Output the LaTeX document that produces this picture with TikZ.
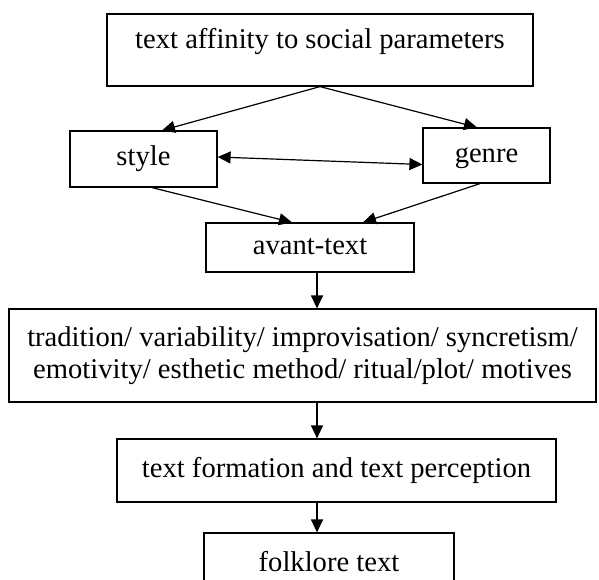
\documentclass[tikz,border=0pt]{standalone}
\usepackage{fontspec}
\setmainfont{Liberation Serif}
\usetikzlibrary{arrows.meta,positioning}
\tikzset{
  fbase/.style={draw, line width=0.6pt, inner sep=0pt, font=\fontsize{14.3pt}{16pt}\selectfont},
  fbox/.style={fbase, text height=10pt, text depth=3.5pt},
  farr/.style={-{Triangle[length=6.5pt,width=6pt]}, line width=0.6pt},
  darr/.style={{Triangle[length=6.5pt,width=6pt]}-{Triangle[length=6.5pt,width=6pt]}, line width=0.6pt},
}

\begin{document}
\begin{tikzpicture}[x=0.5pt,y=-0.5pt]
\useasboundingbox (0,0) rectangle (599,579);
%---- upper part
\node[fbox, minimum width=213pt, minimum height=36pt, text depth=11.5pt] (affin) at (320,50) {text affinity to social parameters};
\node[fbox, minimum width=73.5pt, minimum height=28pt] (style) at (143.5,159) {style};
\node[fbox, minimum width=63.5pt, minimum height=27.5pt] (genre) at (486.5,155.5) {genre};
\node[fbox, minimum width=104pt, minimum height=24.5pt] (avant) at (310,247.5) {avant-text};
%---- lower chain
\node[fbase, align=center, minimum width=293.5pt, minimum height=46.5pt] (trad) at (302.5,355.5)
  {tradition/ variability/ improvisation/ syncretism/\\emotivity/ esthetic method/ ritual/plot/ motives};
\node[fbox, minimum width=219.5pt, minimum height=31.5pt] (form) at (336.5,470.5) {text formation and text perception};
\node[fbox, minimum width=125pt, minimum height=31.5pt] (folk) at (329,564.5) {folklore text};
%---- arrows
\draw[farr] (affin.south) -- ([xshift=9.25pt]style.north);
\draw[farr] (affin.south) -- ([xshift=-4.75pt]genre.north);
\draw[darr] ([yshift=1pt]style.east) -- ([yshift=-4.5pt]genre.west);
\draw[farr] ([xshift=4.25pt]style.south) -- ([xshift=-9pt]avant.north);
\draw[farr] ([xshift=-3.25pt]genre.south) -- ([xshift=26.5pt]avant.north);
\draw[farr] ([xshift=3.5pt]avant.south) -- ([xshift=3.5pt]avant.south |- trad.north);
\draw[farr] ([xshift=7.25pt]trad.south) -- ([xshift=7.25pt]trad.south |- form.north);
\draw[farr] ([xshift=-9.75pt]form.south) -- ([xshift=-9.75pt]form.south |- folk.north);
\end{tikzpicture}
\end{document}
